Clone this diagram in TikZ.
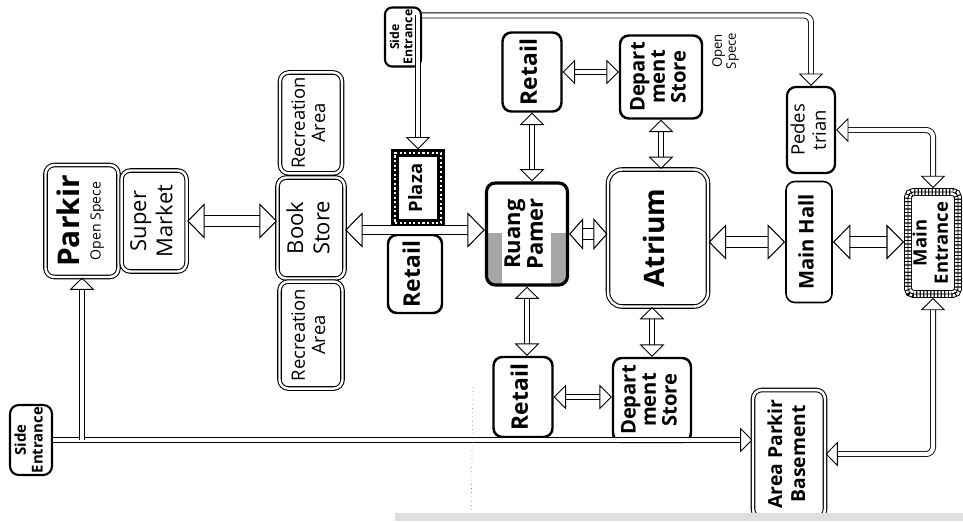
\documentclass[tikz,border=0pt]{standalone}
\usepackage{fontspec}
\setmainfont{Open Sans}
\usepackage{graphicx}
\usetikzlibrary{positioning,arrows.meta}

\newcommand{\vtext}[1]{\rotatebox{90}{\begin{tabular}{@{}c@{}}#1\end{tabular}}}

\begin{document}
\begin{tikzpicture}[x=0.02cm,y=-0.02cm]
	\useasboundingbox (0,0) rectangle (963,521);

	% Styles for the rooms
	\tikzstyle{room}=[draw,rounded corners=5pt,line width=0.9pt,inner sep=0pt,align=center]
	\tikzstyle{shop}=[room,line width=1.4pt,font=\bfseries\fontsize{13}{14}\selectfont]
	\tikzstyle{double room}=[room,double,double distance=1.4pt,line width=0.6pt]
	\tikzstyle{plaza room}=[draw,line width=4.2pt,inner sep=0pt,postaction={draw=white,line width=1.4pt,dash pattern=on 1.2pt off 1.4pt}]
	\tikzstyle{grid room}=[draw,rounded corners=3pt,line width=4.5pt,inner sep=0pt,postaction={draw=white,line width=3.4pt,dash pattern=on 1.3pt off 0.7pt},postaction={draw,line width=0.5pt}]

	% Styles for the links
	\tikzstyle{link}=[double,double distance=2.4pt,line width=0.5pt,>={Triangle[open,width=14pt,length=7pt]}]
	\tikzstyle{wide link}=[double,double distance=5.5pt,line width=0.6pt,>={Triangle[open,width=20pt,length=10pt]}]

	% Left wing
	\node[room,line width=1.2pt,minimum width=0.84cm,minimum height=1.4cm,font=\bfseries\fontsize{8.5}{9.5}\selectfont] (se1) at (31,440) {\vtext{Side\\Entrance}};
	\node[double room,minimum width=1.46cm,minimum height=2.24cm] (parkir) at (82,221) {\vtext{{\bfseries\fontsize{17}{17}\selectfont Parkir}\\{\fontsize{8}{8}\selectfont Open Spece}}};
	\node[double room,minimum width=1.3cm,minimum height=2.02cm,font=\fontsize{12.5}{15}\selectfont] (sm) [right=0.04cm of parkir] {\vtext{Super\\Market}};
	\node[double room,minimum width=1.34cm,minimum height=2.02cm,font=\fontsize{12.5}{15}\selectfont] (bs) at (311,228) {\vtext{Book\\Store}};
	\node[double room,minimum width=1.24cm,minimum height=2.02cm,font=\fontsize{10.5}{11.5}\selectfont] (rec1) [above=0.06cm of bs] {\vtext{Recreation\\Area}};
	\node[double room,minimum width=1.26cm,minimum height=2.14cm,font=\fontsize{10.5}{11.5}\selectfont] (rec2) [below=0.04cm of bs] {\vtext{Recreation\\Area}};

	% Middle
	\node[room,line width=1.2pt,rounded corners=4pt,minimum width=0.72cm,minimum height=1.18cm,font=\bfseries\fontsize{7}{7.5}\selectfont] (se2) at (403,37) {\vtext{Side\\Entrance}};
	\node[plaza room,minimum width=0.92cm,minimum height=1.4cm,font=\bfseries\fontsize{10.5}{11}\selectfont] (plaza) at (418,188) {\vtext{Plaza}};
	\node[shop,minimum width=1.08cm,minimum height=1.56cm] (ret_l) at (415,274) {\vtext{Retail}};
	\node[shop,minimum width=1.18cm,minimum height=1.58cm] (ret_t) at (532,72) {\vtext{Retail}};
	\node[shop,minimum width=1.18cm,minimum height=1.6cm] (ret_b) at (523,397) {\vtext{Retail}};
	\node[room,line width=1.8pt,minimum width=1.62cm,minimum height=2.04cm,font=\bfseries\fontsize{12.5}{13}\selectfont,
		path picture={\fill[gray!70,sharp corners] (path picture bounding box.south west) rectangle ([xshift=0.3cm,yshift=1.05cm]path picture bounding box.south west);
			\fill[gray!70,sharp corners] (path picture bounding box.south east) rectangle ([xshift=-0.34cm,yshift=1.05cm]path picture bounding box.south east);}] (rp) at (527,234) {\vtext{Ruang\\Pamer}};
	\node[shop,minimum width=1.64cm,minimum height=1.66cm,font=\bfseries\fontsize{11.5}{11.5}\selectfont] (ds_t) at (661,77) {\vtext{Depart\\ment\\Store}};
	\node[shop,minimum width=1.56cm,minimum height=1.68cm,font=\bfseries\fontsize{11.5}{11.5}\selectfont] (ds_b) at (652,400) {\vtext{Depart\\ment\\Store}};
	\node[double room,rounded corners=8pt,minimum width=2.0cm,minimum height=2.74cm,font=\bfseries\fontsize{16}{17}\selectfont] (atrium) at (658,238) {\vtext{Atrium}};
	\node[font=\fontsize{7.5}{8}\selectfont] (os) at (726,51) {\vtext{Open\\Spece}};

	% Right wing
	\node[room,line width=1.3pt,minimum width=0.96cm,minimum height=1.72cm,font=\fontsize{10.5}{12}\selectfont] (ped) at (811,130) {\vtext{Pedes\\trian}};
	\node[room,minimum width=0.92cm,minimum height=2.42cm,font=\bfseries\fontsize{11.5}{12}\selectfont] (mh) at (809,242) {\vtext{Main Hall}};
	\node[grid room,minimum width=1.0cm,minimum height=2.04cm,font=\bfseries\fontsize{10.5}{12}\selectfont] (me) at (933,243) {\vtext{Main\\Entrance}};
	\node[double room,minimum width=1.44cm,minimum height=2.56cm,font=\bfseries\fontsize{11}{13}\selectfont] (apb) at (789,454) {\vtext{Area Parkir\\Basement}};

	% Links
	\coordinate (top) at ([yshift=-0.18cm]se2.north east);
	\draw[link,->] (se1.east) -- (se1.east -| apb.west);
	\draw[link,->] (se1.east -| parkir.south) -- (parkir.south);
	\draw[link,->,rounded corners=4pt] (top) -| (ped.north);
	\draw[link,->] (top -| plaza.north) -- (plaza.north);
	\draw[link,<->,rounded corners=4pt] (ped.east) -| (me.north);
	\draw[link,<->,rounded corners=4pt] (apb.east) -| (me.south);

	\draw[wide link,<->] (sm.east) -- (sm.east -| bs.west);
	\draw[wide link,<->,double distance=4pt] ([yshift=-0.04cm]bs.east) -- ([yshift=-0.04cm]bs.east -| rp.west);
	\draw[wide link,<->,>={Triangle[open,width=18pt,length=8pt]}] (rp.east) -- (rp.east -| atrium.west);
	\draw[wide link,<->] (atrium.east |- mh.west) -- (mh.west);
	\draw[wide link,<->] (mh.east) -- (mh.east -| me.west);

	\draw[link,<->] (ret_t.south) -- (ret_t.south |- rp.north);
	\draw[link,<->] (ret_t.east) -- (ret_t.east -| ds_t.west);
	\draw[link,<->] (rp.south) -- (rp.south |- ret_b.north);
	\draw[link,<->] (ret_b.east) -- (ret_b.east -| ds_b.west);
	\draw[link,<->] (ds_t.south) -- (ds_t.south |- atrium.north);
	\draw[link,<->] (ds_b.north) -- (ds_b.north |- atrium.south);

	% Scan marks
	\draw[dotted,gray] (473,387) -- (471,521);
	\fill[gray!25] (395,513) rectangle (963,521);

\end{tikzpicture}
\end{document}
